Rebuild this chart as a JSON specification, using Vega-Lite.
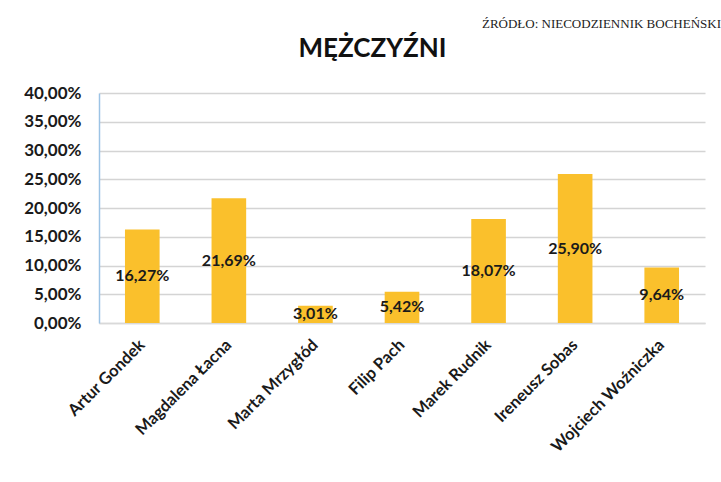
{
  "$schema": "https://vega.github.io/schema/vega-lite/v6.json",
  "width": 606,
  "height": 230,
  "autosize": "none",
  "padding": {"left": 99, "top": 93, "right": 16, "bottom": 159},
  "background": "white",
  "title": {
    "text": "ŹRÓDŁO: NIECODZIENNIK BOCHEŃSKI",
    "anchor": "end",
    "frame": "group",
    "dx": 16,
    "dy": -4,
    "offset": 0,
    "font": "Liberation Serif",
    "fontSize": 13,
    "fontWeight": "normal",
    "color": "#222222"
  },
  "data": {
    "values": [
      {"kandydat": "Artur Gondek", "wynik": 0.1627},
      {"kandydat": "Magdalena Łacna", "wynik": 0.2169},
      {"kandydat": "Marta Mrzygłód", "wynik": 0.0301},
      {"kandydat": "Filip Pach", "wynik": 0.0542},
      {"kandydat": "Marek Rudnik", "wynik": 0.1807},
      {"kandydat": "Ireneusz Sobas", "wynik": 0.2590},
      {"kandydat": "Wojciech Woźniczka", "wynik": 0.0964}
    ]
  },
  "layer": [
    {
      "mark": {"type": "bar", "color": "#FAC02C"},
      "encoding": {
        "x": {
          "field": "kandydat",
          "type": "nominal",
          "sort": null,
          "scale": {"paddingInner": 0.6, "paddingOuter": 0.3},
          "axis": {
            "title": null,
            "labelAngle": -45,
            "labelAlign": "right",
            "labelBaseline": "middle",
            "labelPadding": 19,
            "labelFont": "Lato",
            "labelFontSize": 16.5,
            "labelFontWeight": "bold",
            "labelColor": "#1a1a1a",
            "ticks": false,
            "domainColor": "#d9d9d9",
            "domainWidth": 1.5
          }
        },
        "y": {
          "field": "wynik",
          "type": "quantitative",
          "scale": {"domain": [0, 0.4]},
          "axis": {
            "title": null,
            "format": ".2%",
            "values": [0, 0.05, 0.1, 0.15, 0.2, 0.25, 0.3, 0.35, 0.4],
            "labelOverlap": false,
            "labelFont": "Lato",
            "labelFontSize": 17,
            "labelFontWeight": "bold",
            "labelColor": "#1a1a1a",
            "labelPadding": 18,
            "ticks": false,
            "domainColor": "#9cc3e5",
            "domainWidth": 1.5,
            "gridColor": "#d4d4d4",
            "gridWidth": 1.5
          }
        }
      }
    },
    {
      "transform": [{"calculate": "datum.wynik / 2", "as": "polowa"}],
      "mark": {
        "type": "text",
        "font": "Lato",
        "fontSize": 16,
        "fontWeight": "bold",
        "color": "#1a1a1a",
        "baseline": "middle",
        "align": "center"
      },
      "encoding": {
        "x": {"field": "kandydat", "type": "nominal", "sort": null, "axis": null},
        "y": {"field": "polowa", "type": "quantitative", "axis": null},
        "text": {"field": "wynik", "type": "quantitative", "format": ".2%"}
      }
    },
    {
      "mark": {"type": "bar", "opacity": 0},
      "encoding": {
        "x": {
          "field": "kandydat",
          "type": "nominal",
          "sort": null,
          "axis": {
            "orient": "top",
            "labels": false,
            "ticks": false,
            "domain": false,
            "grid": false,
            "title": "MĘŻCZYŹNI",
            "titleFont": "Lato",
            "titleFontSize": 26,
            "titleFontWeight": "bold",
            "titleColor": "#111111",
            "titleAnchor": "middle",
            "titleAlign": "center",
            "titleBaseline": "alphabetic",
            "titleX": 273,
            "titleY": -37
          }
        },
        "y": {"field": "wynik", "type": "quantitative", "axis": null}
      }
    }
  ],
  "resolve": {"axis": {"x": "independent", "y": "independent"}},
  "config": {
    "locale": {
      "number": {"decimal": ",", "thousands": " ", "grouping": [3], "currency": ["", " zł"]}
    },
    "view": {"stroke": null}
  }
}
